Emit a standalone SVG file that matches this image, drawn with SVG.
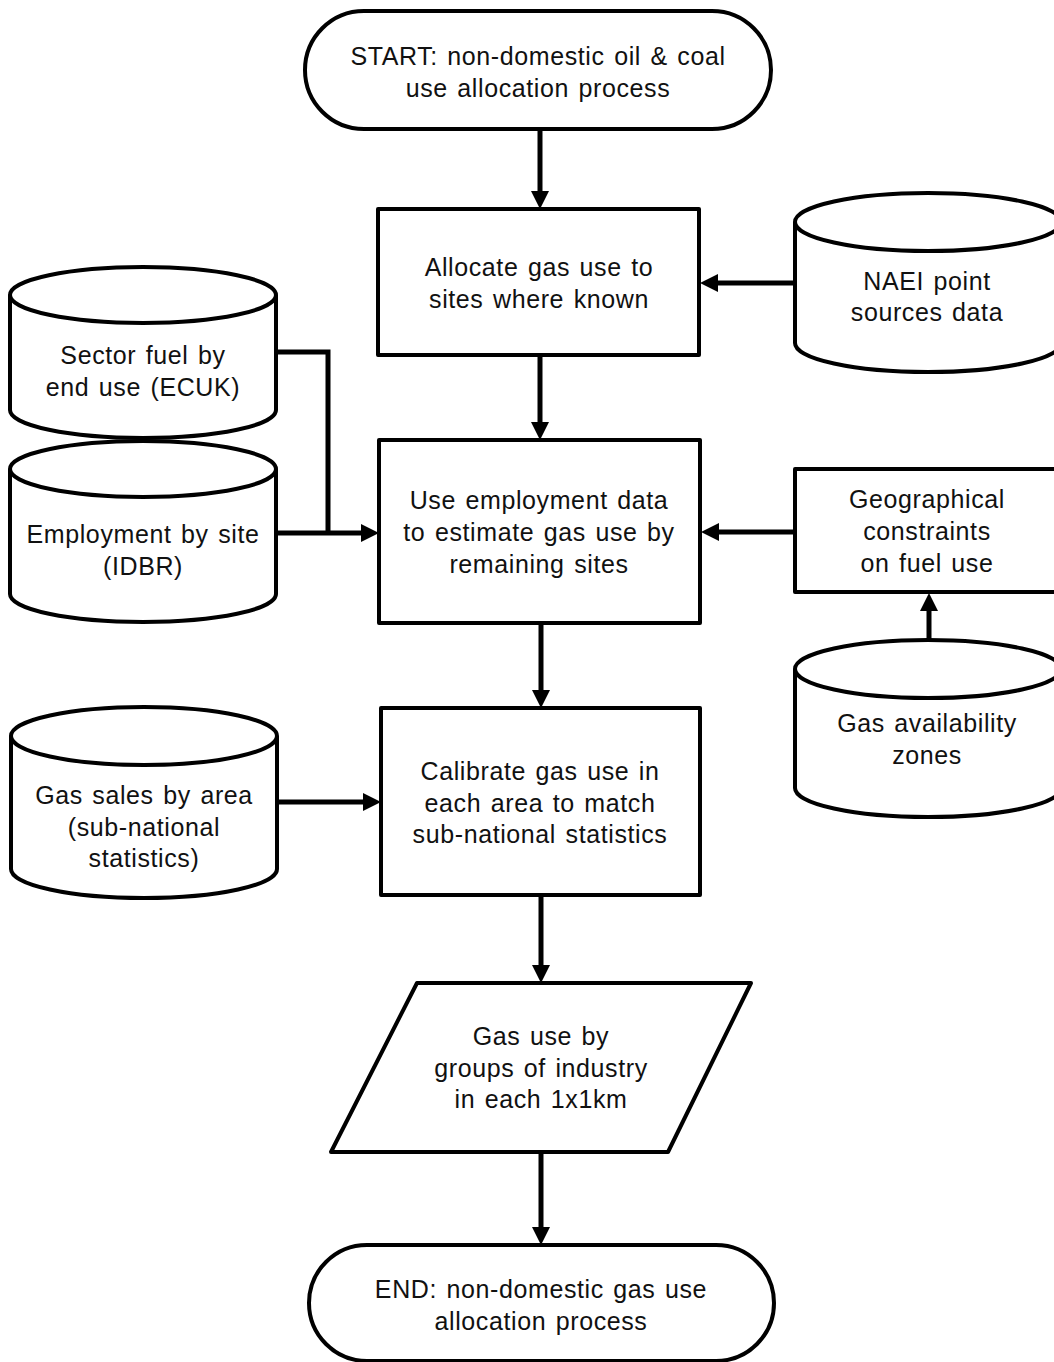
<svg xmlns="http://www.w3.org/2000/svg" width="1054" height="1362" viewBox="0 0 1054 1362">
<style>
.s{fill:#fff;stroke:#000;stroke-width:4;stroke-linejoin:round}
.c{fill:none;stroke:#000;stroke-width:5}
text{font-family:"Liberation Sans",Arial,sans-serif;font-size:25px;letter-spacing:0.6px;word-spacing:2px;fill:#111;text-anchor:middle}
</style>
<defs>
<marker id="ah" viewBox="0 0 18 18" markerWidth="18" markerHeight="18" refX="7" refY="9" orient="auto" markerUnits="userSpaceOnUse">
<path d="M0,0 L18,9 L0,18 z" fill="#000"/>
</marker>
</defs>
<rect width="1054" height="1362" fill="#fff"/>
<g id="connectors">
<line class="c" x1="540" y1="129" x2="540" y2="198" marker-end="url(#ah)"/>
<line class="c" x1="795" y1="283" x2="711" y2="283" marker-end="url(#ah)"/>
<line class="c" x1="540" y1="355" x2="540" y2="429" marker-end="url(#ah)"/>
<polyline class="c" points="276,352 328,352 328,533"/>
<line class="c" x1="276" y1="533" x2="368" y2="533" marker-end="url(#ah)"/>
<line class="c" x1="795" y1="532" x2="712" y2="532" marker-end="url(#ah)"/>
<line class="c" x1="929" y1="640" x2="929" y2="604" marker-end="url(#ah)"/>
<line class="c" x1="541" y1="623" x2="541" y2="697" marker-end="url(#ah)"/>
<line class="c" x1="277" y1="802" x2="370" y2="802" marker-end="url(#ah)"/>
<line class="c" x1="541" y1="895" x2="541" y2="972" marker-end="url(#ah)"/>
<line class="c" x1="541" y1="1152" x2="541" y2="1234" marker-end="url(#ah)"/>
</g>
<g id="start">
<rect class="s" x="305" y="11" width="466" height="118" rx="59"/>
<text x="538" y="65">START: non-domestic oil &amp; coal</text>
<text x="538" y="97">use allocation  process</text>
</g>
<g id="allocate">
<rect class="s" x="378" y="209" width="321" height="146"/>
<text x="539" y="276">Allocate  gas use to</text>
<text x="539" y="308">sites where  known</text>
</g>
<g id="naei">
<path class="s" d="M795,222 L795,343 A133,29 0 0 0 1061,343 L1061,222"/>
<ellipse class="s" cx="928" cy="222" rx="133" ry="29"/>
<text x="927" y="290">NAEI point</text>
<text x="927" y="321">sources data</text>
</g>
<g id="sector">
<path class="s" d="M10,295 L10,410 A133,28 0 0 0 276,410 L276,295"/>
<ellipse class="s" cx="143" cy="295" rx="133" ry="28"/>
<text x="143" y="364">Sector fuel by</text>
<text x="143" y="396">end use (ECUK)</text>
</g>
<g id="employment">
<path class="s" d="M10,469 L10,594 A133,28 0 0 0 276,594 L276,469"/>
<ellipse class="s" cx="143" cy="469" rx="133" ry="28"/>
<text x="143" y="543">Employment  by site</text>
<text x="143" y="575">(IDBR)</text>
</g>
<g id="use-employment">
<rect class="s" x="379" y="440" width="321" height="183"/>
<text x="539" y="509">Use employment  data</text>
<text x="539" y="541">to estimate gas use by</text>
<text x="539" y="573">remaining  sites</text>
</g>
<g id="geographical">
<rect class="s" x="795" y="469" width="270" height="123"/>
<text x="927" y="508">Geographical</text>
<text x="927" y="540">constraints</text>
<text x="927" y="572">on fuel use</text>
</g>
<g id="gas-availability">
<path class="s" d="M795,669 L795,788 A133,29 0 0 0 1061,788 L1061,669"/>
<ellipse class="s" cx="928" cy="669" rx="133" ry="29"/>
<text x="927" y="732">Gas availability</text>
<text x="927" y="764">zones</text>
</g>
<g id="calibrate">
<rect class="s" x="381" y="708" width="319" height="187"/>
<text x="540" y="780">Calibrate gas use in</text>
<text x="540" y="812">each area to match</text>
<text x="540" y="843">sub-national  statistics</text>
</g>
<g id="gas-sales">
<path class="s" d="M11,736 L11,869 A133,29 0 0 0 277,869 L277,736"/>
<ellipse class="s" cx="144" cy="736" rx="133" ry="29"/>
<text x="144" y="804">Gas sales by area</text>
<text x="144" y="836">(sub-national</text>
<text x="144" y="867">statistics)</text>
</g>
<g id="output">
<polygon class="s" points="417,983 751,983 668,1152 331,1152"/>
<text x="541" y="1045">Gas use by</text>
<text x="541" y="1077">groups of industry</text>
<text x="541" y="1108">in each 1x1km</text>
</g>
<g id="end">
<rect class="s" x="309" y="1245" width="465" height="116" rx="58"/>
<text x="541" y="1298">END: non-domestic gas use</text>
<text x="541" y="1330">allocation process</text>
</g>
</svg>
